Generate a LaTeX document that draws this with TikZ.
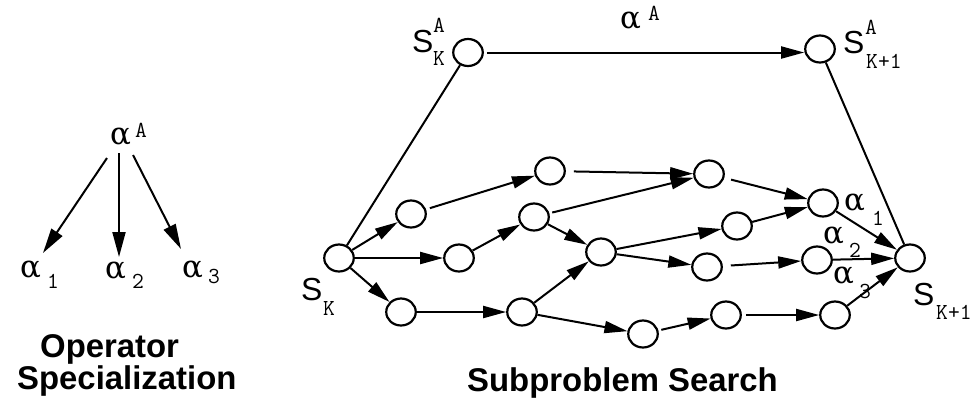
\documentclass[tikz,border=0pt]{standalone}
\usepackage{fontspec}
\setmainfont{Liberation Sans}
\newfontfamily\serf{DejaVu Serif}
\usetikzlibrary{arrows.meta,shapes.geometric}
\begin{document}
\begin{tikzpicture}[x=1bp,y=-1bp,
 st/.style={draw,ellipse,minimum width=29.5bp,minimum height=27bp,inner sep=0pt,line width=2.2bp},
 ln/.style={line width=2bp},
 arr/.style={ln,-{Triangle[length=23bp,width=12bp]}},
 arrL/.style={ln,-{Triangle[length=25bp,width=13bp]}},
 txt/.style={inner sep=0pt,anchor=base west},
 al/.style={txt,font=\serf\fontsize{31}{31}\selectfont},
 ss/.style={txt,font=\fontsize{32}{32}\selectfont},
 mo/.style={txt,font=\ttfamily\fontsize{23}{23}\selectfont},
 ttl/.style={txt,font=\bfseries\fontsize{33}{33}\selectfont}]
\useasboundingbox (0,0) rectangle (970,399);

% ---------- left: operator specialization ----------
\node[al] (LA) at (110,144) {α};
\node[mo] (LAs) at (135,137) {A};
\node[al] (L1) at (20,277) {α};
\node[mo] (L1s) at (47,288) {1};
\node[al] (L2) at (105,278) {α};
\node[mo] (L2s) at (132,288) {2};
\node[al] (L3) at (182,277) {α};
\node[mo] (L3s) at (208,283) {3};
\coordinate (a0) at (107,158);
\coordinate (e1) at (43,253);
\coordinate (b0) at (119,153);
\coordinate (e2) at (119,257);
\coordinate (c0) at (133,155);
\coordinate (e3) at (181,249);
\draw[arrL] (a0) -- (e1);
\draw[arrL] (b0) -- (e2);
\draw[arrL] (c0) -- (e3);
\node[ttl] (T1) at (40,357) {Operator};
\node[ttl] (T2) at (17,389) {Specialization};

% ---------- right: subproblem search ----------
\node[st] (SKA) at (468,52.5) {};
\node[st] (SKAp) at (820,49) {};
\node[st] (SK) at (339,258) {};
\node[st] (SKp) at (910,258) {};
\node[st] (n1) at (411,214) {};
\node[st] (n2) at (550,171) {};
\node[st] (n3) at (709,174) {};
\node[st] (n4) at (823,203) {};
\node[st] (n5) at (459,258) {};
\node[st] (n6) at (534,217) {};
\node[st] (n7) at (601,252) {};
\node[st] (n8) at (737,226) {};
\node[st] (n9) at (707,267) {};
\node[st] (n10) at (817,260) {};
\node[st] (n11) at (401,312) {};
\node[st] (n12) at (522,312) {};
\node[st] (n13) at (643,334) {};
\node[st] (n14) at (726,315) {};
\node[st] (n15) at (835,315) {};

\draw[ln] (SK) -- (SKA);
\draw[ln] (SKAp) -- (SKp);
\draw[arr,shorten <=3bp] (SKA.east) -- (SKA.east -| SKAp.west);

\draw[arr] (SK) -- (n1);
\draw[arr] (SK) -- (n5);
\draw[arr] (SK) -- (n11);
\draw[arr,shorten <=4bp] (n1) -- (n2);
\draw[arr,shorten <=8bp] (n2) -- (n3);
\draw[arr,shorten <=7bp] (n3) -- (n4);
\draw[arr] (n5) -- (n6);
\draw[arr,shorten <=3bp] (n6) -- (n3);
\draw[arr] (n6) -- (n7);
\draw[arr] (n7) -- (n8);
\draw[arr] (n7) -- (n9);
\draw[arr] (n8) -- (n4);
\draw[arr,shorten <=8bp] (n9) -- (n10);
\draw[arr] (n4) -- (SKp);
\draw[arr] (n10) -- (SKp);
\draw[arr] (n15) -- (SKp);
\draw[arr] (n11) -- (n12);
\draw[arr] (n12) -- (n7);
\draw[arr] (n12) -- (n13);
\draw[arr,shorten <=3bp] (n13) -- (n14);
\draw[arr,shorten <=4bp] (n14) -- (n15);

% labels
\node[al] (TA) at (620,28) {α};
\node[mo] (TAs) at (648,20) {A};
\node[ss] (S1) at (412,52) {S};
\node[mo] (S1a) at (433,32) {A};
\node[mo] (S1k) at (433,65) {K};
\node[ss] (S2) at (843,53) {S};
\node[mo] (S2a) at (865,34) {A};
\node[mo] (S2k) at (866,68) {K+1};
\node[ss] (S3) at (301,300) {S};
\node[mo] (S3k) at (323,315) {K};
\node[ss] (S4) at (913,305) {S};
\node[mo] (S4k) at (936,319) {K+1};
\node[al] (R1) at (844,210) {α};
\node[mo] (R1s) at (872,225) {1};
\node[al] (R2) at (823,243) {α};
\node[mo] (R2s) at (849,257) {2};
\node[al] (R3) at (833,283) {α};
\node[mo] (R3s) at (859,298) {3};
\node[ttl] (T3) at (467,391) {Subproblem Search};
\end{tikzpicture}
\end{document}
